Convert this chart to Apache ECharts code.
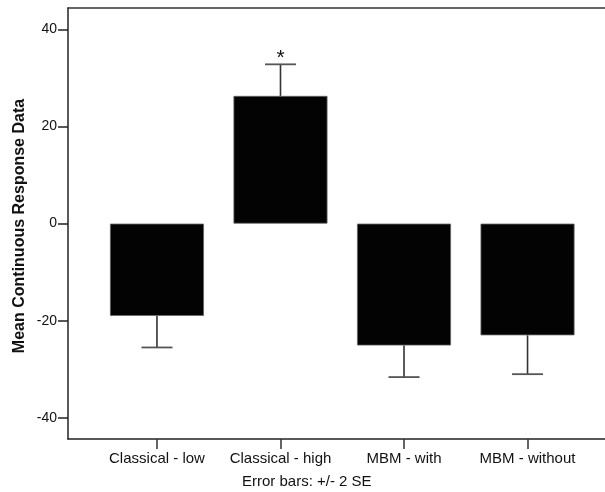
<!DOCTYPE html>
<html>
<head>
<meta charset="utf-8">
<script src="https://cdn.jsdelivr.net/npm/echarts@6/dist/echarts.min.js"></script>
<style>
html,body{margin:0;padding:0;background:#fff;}
#chart{width:605px;height:492px;}
</style>
</head>
<body>
<div id="chart"></div>
<script>
var categories = ['Classical - low', 'Classical - high', 'MBM - with', 'MBM - without'];
var means = [-19.0, 26.3, -25.1, -23.0];
var errorEnds = [-25.5, 32.8, -31.6, -31.0];
var annotations = ['', '*', '', ''];
var yTicks = [-40, -20, 0, 20, 40];
var yTitle = 'Mean Continuous Response Data';
var footnote = 'Error bars: +/- 2 SE';

var Y_MIN = -44.35, Y_MAX = 44.4;
var chart = echarts.init(document.getElementById('chart'), null, {renderer: 'canvas'});
var font = 'Liberation Sans, Arial, sans-serif';

var errData = means.map(function (m, i) { return [i, m, errorEnds[i]]; });

var option = {
  animation: false,
  backgroundColor: '#fff',
  grid: [
    {left: 68, right: -11, top: 8, bottom: 53, show: false},
    {left: 95.2, width: 494.1, top: 8, bottom: 53, show: false}
  ],
  xAxis: [
    {gridIndex: 0, type: 'value', min: 0, max: 1, position: 'bottom',
     axisLine: {show: true, onZero: false, lineStyle: {color: '#222', width: 1.5}},
     axisTick: {show: false}, axisLabel: {show: false}, splitLine: {show: false}},
    {gridIndex: 0, type: 'value', min: 0, max: 1, position: 'top',
     axisLine: {show: true, onZero: false, lineStyle: {color: '#333', width: 1.5}},
     axisTick: {show: false}, axisLabel: {show: false}, splitLine: {show: false}},
    {gridIndex: 1, type: 'category', data: categories, boundaryGap: true, position: 'bottom',
     axisLine: {show: false, onZero: false},
     axisTick: {show: true, alignWithLabel: true, length: 10, lineStyle: {color: '#333', width: 1.5}},
     axisLabel: {show: true, interval: 0, margin: 12, color: '#111', fontSize: 15, fontFamily: font},
     splitLine: {show: false}}
  ],
  yAxis: [
    {gridIndex: 0, type: 'value', min: Y_MIN, max: Y_MAX,
     axisLine: {show: true, onZero: false, lineStyle: {color: '#222', width: 1.5}},
     axisTick: {show: true, length: 10, customValues: yTicks, lineStyle: {color: '#222', width: 1.5}},
     axisLabel: {show: true, margin: 11, customValues: yTicks, color: '#111', fontSize: 14, fontFamily: font},
     splitLine: {show: false}},
    {gridIndex: 1, type: 'value', min: Y_MIN, max: Y_MAX, show: false, splitLine: {show: false}}
  ],
  series: [
    {type: 'bar', xAxisIndex: 2, yAxisIndex: 1, data: means, barWidth: 94,
     itemStyle: {color: '#030303', borderColor: '#666', borderWidth: 0.8}},
    {type: 'custom', xAxisIndex: 2, yAxisIndex: 1, data: errData, z: 3,
     renderItem: function (params, api) {
       var i = api.value(0);
       var p0 = api.coord([i, api.value(1)]);
       var p1 = api.coord([i, api.value(2)]);
       var half = 15.5;
       var children = [
         {type: 'line', shape: {x1: p0[0], y1: p0[1], x2: p1[0], y2: p1[1]},
          style: {stroke: '#333', lineWidth: 1.6}},
         {type: 'line', shape: {x1: p1[0] - half, y1: p1[1], x2: p1[0] + half, y2: p1[1]},
          style: {stroke: '#555', lineWidth: 1.8}}
       ];
       var a = annotations[params.dataIndex];
       if (a) {
         children.push({type: 'text', x: p1[0], y: p1[1] + 4,
           style: {text: a, fill: '#111', font: '21px ' + font, align: 'center', verticalAlign: 'bottom'}});
       }
       return {type: 'group', children: children};
     }}
  ],
  graphic: [
    {type: 'text', x: 20, y: 226, rotation: Math.PI / 2,
     style: {text: yTitle, fill: '#111', font: 'bold 16px ' + font, align: 'center', verticalAlign: 'middle'}},
    {type: 'text', x: 242, y: 482,
     style: {text: footnote, fill: '#111', font: '15px ' + font, align: 'left', verticalAlign: 'middle'}}
  ]
};
chart.setOption(option);
</script>
</body>
</html>
